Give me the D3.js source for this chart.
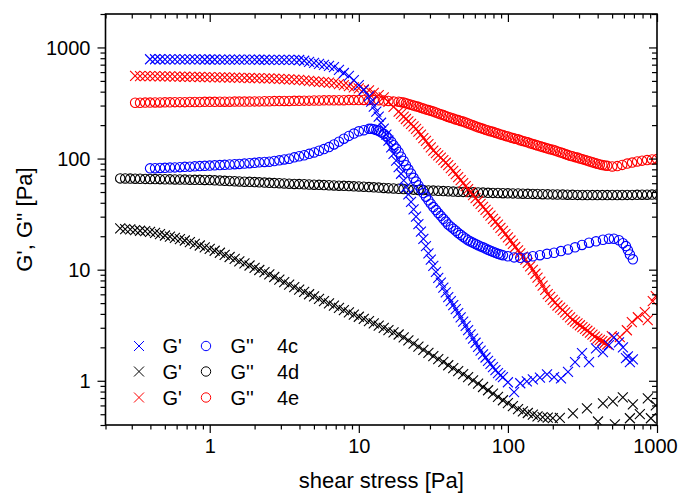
<!DOCTYPE html>
<html><head><meta charset="utf-8">
<script src="https://cdn.jsdelivr.net/npm/d3@7"></script>
<style>
body{margin:0;background:#fff}
svg{display:block}
text{font-family:"Liberation Sans",Arial,sans-serif;fill:#000}
</style>
</head><body>
<svg id="c" width="678" height="494"></svg>
<script>
// ---- stress grid [Pa] ----
const stress=[0.251,0.271,0.293,0.316,0.341,0.369,0.398,0.430,0.464,0.501,0.541,0.584,0.631,0.681,0.736,0.794,0.858,0.926,
1.00,1.08,1.17,1.26,1.36,1.47,1.58,1.71,1.85,2.00,2.15,2.33,2.51,2.71,2.93,3.16,3.41,3.69,3.98,4.30,4.64,5.01,5.41,5.84,6.31,6.81,7.36,7.94,8.58,9.26,
10.0,10.8,11.7,12.6,13.6,14.7,15.8,17.1,18.5,20.0,21.5,23.3,25.1,27.1,29.3,31.6,34.1,36.9,39.8,43.0,46.4,50.1,54.1,58.4,63.1,68.1,73.6,79.4,85.8,92.6,
100,108,117,126,136,147,158,171,185,200,215,233,251,271,293,316,341,369,398,430,464,501,541,584,631,681,736,794,858,926,1000];

// ---- 4c (blue) ----
const gp4c=[783,783,783,782,782,781,781,781,780,780,780,779,779,779,778,778,778,777,777,776,776,776,775,775,774,774,773,773,772,772,771,
759,743,728,713,698,684,665,627,589,554,507,458,414,362,294,238,186,145,110,83.7,63.6,47.7,34.9,25.7,18.9,14.0,10.8,
8.45,6.90,5.67,4.80,4.06,3.41,2.86,2.40,2.02,1.73,1.51,1.33,1.17,1.08];
const gpp4c=[81.6,81.9,82.3,82.6,83.0,83.3,83.7,84.2,84.6,85.1,85.5,86.0,86.4,86.9,87.4,
87.9,88.4,89.0,89.5,90.1,90.9,91.6,92.4,93.2,93.7,95.1,96.5,98.2,99.6,102.5,104.9,107.1,110.2,113.5,117.6,
121.8,127,134,142,151,160,168,176,180,185,184,178,167,152,132,114,95.1,80.0,67.1,57.4,
49.0,42.1,36.6,32.4,28.7,25.5,23.4,21.4,19.8,18.4,17.5,16.6,15.9,15.1,14.5,13.9,13.5];
// extra points where the 4c sweep crowds (yield region)
const midStress4c=[12.1,13.1,14.1,15.3,16.5,17.8,19.2,20.7,22.4,24.2,26.1,28.2,30.4,32.9,35.5,38.3,41.4,44.7,48.2,52.1,56.2,60.7,65.6,70.8,76.4,82.5,89.1];
const midGp4c=[326,265,210,164,126,96,73,55,40.8,30,22,16.3,12.3,9.55,7.64,6.25,5.22,4.41,3.72,3.12,2.62,2.20,1.87,1.62,1.42,1.25,1.12];
const midGpp4c=[185,181,172,159,142,123,104,87.2,73.3,62.1,53,45.4,39.3,34.4,30.5,27.1,24.4,22.4,20.6,19.1,17.9,17.0,16.2,15.5,14.8,14.2,13.7];
const tailStress4c=[100,110,121,134,147,164,183,204,227,253,282,314,350,390,434,476,514,556,591,619,638,658,689];
const tailGp4c=[0.97,0.79,0.95,0.99,1.03,1.07,1.14,1.08,1.05,1.2,1.47,1.77,1.47,1.96,1.81,2.09,2.46,2.22,2.0,1.6,1.66,1.47,1.56];
const tailGpp4c=[13.2,12.9,12.8,12.9,13.2,13.5,13.9,14.2,14.7,15.2,15.9,16.7,17.5,18.0,18.6,19.0,19.0,18.4,17.3,16.3,15.0,13.7,12.4];

// ---- 4d (black) ----
const gp4d=[23.5,23.2,23.0,22.7,22.4,22.2,21.9,21.4,20.9,20.3,19.8,19.3,18.8,18.3,17.7,17.1,16.5,15.9,15.4,
14.8,14.2,13.6,13.0,12.5,11.9,11.4,10.9,10.4,9.93,9.50,9.06,8.59,8.15,7.73,7.34,6.97,6.61,
6.30,6.01,5.74,5.47,5.22,4.98,4.75,4.54,4.33,4.13,3.94,3.77,
3.60,3.44,3.28,3.13,2.99,2.86,2.73,2.61,2.46,2.31,2.16,2.03,
1.90,1.78,1.67,1.57,1.48,1.38,1.30,1.22,1.15,1.08,1.01,0.942,
0.879,0.822,0.767,0.716,0.668,0.630,0.592,0.557,0.531,0.513,0.495,0.479,0.470,0.467,0.461];
const gpp4d=[66.3,66.2,66.0,65.9,65.8,65.6,65.5,65.4,65.3,65.1,65.0,64.9,64.8,64.7,64.5,64.4,64.3,64.2,64.0,
63.7,63.4,63.1,62.8,62.5,62.2,61.9,61.7,61.4,61.1,60.8,60.5,60.2,60.0,59.7,59.4,59.1,58.9,
58.7,58.4,58.2,58.0,57.7,57.5,57.3,57.0,56.8,56.6,56.3,56.1,
55.8,55.4,55.1,54.8,54.4,54.1,53.8,53.5,53.2,52.8,52.5,52.2,
52.0,51.7,51.5,51.3,51.0,50.8,50.5,50.3,50.1,49.9,49.7,49.5,
49.4,49.2,49.1,49.0,48.8,48.7,48.6,48.5,48.3,48.2,48.1,48.0,47.8,47.7,47.6,47.5,47.4,47.3,
47.2,47.1,47.0,47.0,46.9,46.9,46.9,46.9,47.0,47.0,47.0,47.1,47.1,47.2,47.3,47.3,47.4,47.5];
const tailStress4d=[223,273,339,402,434,506,522,590,658,689,767,868,910,982];
const tailGp4d=[0.464,0.51,0.565,0.43,0.627,0.653,0.406,0.71,0.46,0.614,0.50,0.695,0.46,0.60];

// ---- 4e (red) ----
const gp4e=[554,553,553,552,551,550,549,548,547,546,545,544,543,542,541,
540,539,538,537,535,534,533,532,531,530,529,528,526,
523,521,518,515,513,510,505,501,496,491,487,482,478,
468,458,448,438,429,420,411,390,373,355,323,292,265,
239,216,195,175,153,135,118,107,96.6,87.1,77.3,68.0,60.0,53.0,46.9,41.5,
36.8,32.6,28.7,25.4,22.3,19.5,17.1,14.9,13.1,11.5,9.94,8.5,7.2,6.03,5.36,4.76,
4.34,3.92,3.54,3.28,3.04,2.82,2.60,2.40,2.27,2.13];
const gpp4e=[318,318,319,319,320,320,321,321,322,322,322,323,323,323,324,324,324,325,325,325,326,326,326,326,327,
327,328,328,329,329,330,330,331,331,332,332,333,333,334,334,334,
335,335,336,336,336,337,337,336,335,333,330,327,325,
320,310,300,292,282,273,265,255,246,237,229,222,215,207,199,191,
185,179,174,168,163,158,153,149,144,140,135,131,127,123,120,116,
112,108,105,102,98.8,95.8,92.6,89.8,87.5,86.1,84.9,85.5,87.7,90.2,92.0,94.2,95.8,96.9,98.2,99.0];
// extra points where the 4e sweep crowds (yield region)
const midStress4e=[19.2,20.7,22.4,24.2,26.1,28.2,30.4,32.9,35.5,38.3,41.4,44.7,48.2,52.1,56.2,60.7,65.6,70.8,76.4,82.5,89.1,96.2,
104,112,121,131,141,153,165,178,192,207,224,242,261,282,304,329,355,383,414,447];
const midGp4e=[252,227,205,185,164,144,126,112,102,91.7,82.1,72.5,63.9,56.4,49.9,44.1,39.1,34.6,30.6,27.0,23.8,20.9,
18.3,16.0,14.0,12.3,10.7,9.19,7.82,6.59,5.68,5.05,4.55,4.12,3.72,3.41,3.16,2.93,2.71,2.50,2.33,2.20];
const midGpp4e=[322,315,305,296,287,277,269,260,250,241,233,225,218,211,203,195,188,182,176,171,165,160,
155,151,146,142,137,133,129,125,121,118,114,110,106,103,100,97.3,94.2,91.2,88.6,86.8];
const tailStress4e=[498,563,628,678,744,829,867,937,982];
const tailGp4e=[2.52,2.47,2.85,3.37,3.73,4.14,3.51,5.2,5.77];

// ---- axes / legend text ----
const xTickLabels=[1,10,100,1000];
const yTickLabels=[1,10,100,1000];
const legendSamples=["4c","4d","4e"];
const legendColors=["#0000ff","#000000","#ff0000"];

// ---- build ----
const L=105.5,R=657,T=14,B=425;
const x=d3.scaleLog().domain([0.2,1000]).range([L,R]);
const y=d3.scaleLog().domain([0.4,2000]).range([B,T]);
const svg=d3.select("#c");

svg.append("defs").append("clipPath").attr("id","clip")
  .append("rect").attr("x",L).attr("y",T).attr("width",R-L).attr("height",B-T);

const crossPath="M-5,-5L5,5M-5,5L5,-5";
function zip(xs,ys){return xs.map((v,i)=>({x:v,y:ys[i]}));}

const series=[
 {pts:zip(stress.slice(0,109),gpp4d),c:"#000000",s:"o"},
 {pts:zip(stress.slice(0,88),gp4d).concat(zip(tailStress4d,tailGp4d)),c:"#000000",s:"x"},
 {pts:zip(stress.slice(3,109),gpp4e).concat(zip(midStress4e,midGpp4e)),c:"#ff0000",s:"o"},
 {pts:zip(stress.slice(3,99),gp4e).concat(zip(midStress4e,midGp4e),zip(tailStress4e,tailGp4e)),c:"#ff0000",s:"x"},
 {pts:zip(stress.slice(6,78),gpp4c).concat(zip(midStress4c,midGpp4c),zip(tailStress4c,tailGpp4c)),c:"#0000ff",s:"o"},
 {pts:zip(stress.slice(6,78),gp4c).concat(zip(midStress4c,midGp4c),zip(tailStress4c,tailGp4c)),c:"#0000ff",s:"x"}
];

const plot=svg.append("g").attr("clip-path","url(#clip)");
series.forEach(se=>{
  const g=plot.append("g");
  if(se.s==="o"){
    g.selectAll("circle").data(se.pts).join("circle")
      .attr("cx",d=>x(d.x)).attr("cy",d=>y(d.y)).attr("r",4.7)
      .attr("fill","none").attr("stroke",se.c).attr("stroke-width",1.1);
  }else{
    g.selectAll("path").data(se.pts).join("path")
      .attr("transform",d=>`translate(${x(d.x)},${y(d.y)})`)
      .attr("d",crossPath).attr("fill","none").attr("stroke",se.c).attr("stroke-width",1.1);
  }
});

// minor tick values
const minorX=[],minorY=[];
[0.1,1,10,100].forEach(dec=>{for(let k=2;k<=9;k++){const v=k*dec; if(v>=0.2&&v<1000)minorX.push(v);}});
[0.1,1,10,100,1000].forEach(dec=>{for(let k=2;k<=9;k++){const v=k*dec; if(v>=0.4&&v<=2000)minorY.push(v);}});

function styleAxis(g){g.select(".domain").remove();g.selectAll("line").attr("stroke","#000").attr("stroke-width",1.2);}

// bottom
svg.append("g").attr("transform",`translate(0,${B})`)
  .call(d3.axisBottom(x).tickValues(xTickLabels).tickSize(8).tickFormat(d=>String(d)))
  .call(styleAxis)
  .call(g=>g.selectAll("text").attr("y",28).attr("dy",null).attr("font-size",20).style("font-family",'"Liberation Sans",Arial,sans-serif')
    .attr("dx",d=>d===1000?-2:0));
svg.append("g").attr("transform",`translate(0,${B})`)
  .call(d3.axisBottom(x).tickValues(minorX).tickSize(4.5).tickFormat(""))
  .call(styleAxis);
// top (inward)
svg.append("g").attr("transform",`translate(0,${T})`)
  .call(d3.axisBottom(x).tickValues(xTickLabels).tickSize(8).tickFormat(""))
  .call(styleAxis);
svg.append("g").attr("transform",`translate(0,${T})`)
  .call(d3.axisBottom(x).tickValues(minorX).tickSize(4.5).tickFormat(""))
  .call(styleAxis);
// left
svg.append("g").attr("transform",`translate(${L},0)`)
  .call(d3.axisLeft(y).tickValues(yTickLabels).tickSize(8).tickFormat(d=>String(d)))
  .call(styleAxis)
  .call(g=>g.selectAll("text").attr("x",-15).attr("dy","0.35em").attr("font-size",20).style("font-family",'"Liberation Sans",Arial,sans-serif'));
svg.append("g").attr("transform",`translate(${L},0)`)
  .call(d3.axisLeft(y).tickValues(minorY).tickSize(5).tickFormat(""))
  .call(styleAxis);
// right (inward)
svg.append("g").attr("transform",`translate(${R},0)`)
  .call(d3.axisLeft(y).tickValues(yTickLabels).tickSize(8).tickFormat(""))
  .call(styleAxis);
svg.append("g").attr("transform",`translate(${R},0)`)
  .call(d3.axisLeft(y).tickValues(minorY).tickSize(5).tickFormat(""))
  .call(styleAxis);

// frame
svg.append("rect").attr("x",L).attr("y",T).attr("width",R-L).attr("height",B-T)
  .attr("fill","none").attr("stroke","#000").attr("stroke-width",1.6);

// titles
svg.append("text").attr("x",(L+R)/2).attr("y",488).attr("text-anchor","middle")
  .attr("font-size",22).text("shear stress [Pa]");
svg.append("text").attr("transform",`translate(32,${(T+B)/2}) rotate(-90)`).attr("text-anchor","middle")
  .attr("font-size",22).text("G', G'' [Pa]");

// legend
const rowY=[346,371.5,397.5];
legendSamples.forEach((lab,i)=>{
  const g=svg.append("g").attr("transform",`translate(0,${rowY[i]})`);
  g.append("path").attr("transform","translate(139,0)").attr("d",crossPath)
    .attr("fill","none").attr("stroke",legendColors[i]).attr("stroke-width",1);
  g.append("text").attr("x",162.5).attr("y",7).attr("font-size",20).text("G'");
  g.append("circle").attr("cx",206).attr("cy",0).attr("r",4.7)
    .attr("fill","none").attr("stroke",legendColors[i]).attr("stroke-width",1);
  g.append("text").attr("x",230.5).attr("y",7).attr("font-size",20).text("G''");
  g.append("text").attr("x",277).attr("y",7).attr("font-size",20).text(lab);
});
</script>
</body></html>
